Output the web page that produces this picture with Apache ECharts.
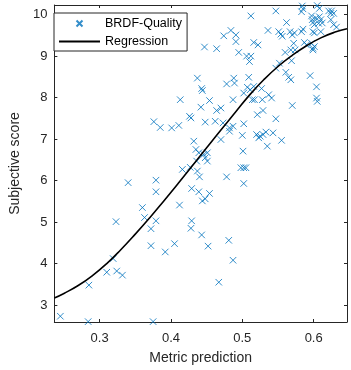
<!DOCTYPE html>
<html lang="en">
<head>
<meta charset="UTF-8">
<title>BRDF quality</title>
<script src="https://cdn.jsdelivr.net/npm/echarts@6/dist/echarts.min.js"></script>
<style>
    html, body { margin: 0; padding: 0; background: #ffffff; }
    #chart { width: 351px; height: 370px; }
</style>
</head>
<body>
<div id="chart"></div>
<script>
// scatter: metric prediction vs subjective score
var qualityX = [0.547,0.584,0.585,0.583,0.605,0.608,0.621,0.625,0.628,0.624,
    0.562,0.597,0.598,0.599,0.603,0.608,0.610,0.607,0.612,0.601,
    0.624,0.628,0.632,0.551,0.554,0.556,0.567,0.570,0.573,0.583,
    0.585,0.599,0.601,0.610,0.572,0.568,0.574,0.587,0.590,0.597,
    0.599,0.601,0.599,0.560,0.536,0.512,0.447,0.464,0.474,0.484,
    0.491,0.491,0.495,0.506,0.512,0.510,0.516,0.522,0.569,0.547,
    0.552,0.561,0.565,0.568,0.595,0.604,0.604,0.605,0.570,0.437,
    0.443,0.444,0.478,0.489,0.488,0.509,0.507,0.511,0.516,0.502,
    0.514,0.517,0.527,0.537,0.541,0.528,0.487,0.454,0.442,0.464,
    0.470,0.426,0.428,0.448,0.462,0.473,0.482,0.487,0.502,0.521,
    0.529,0.547,0.413,0.376,0.385,0.401,0.411,0.482,0.500,0.520,
    0.523,0.525,0.529,0.533,0.543,0.555,0.535,0.470,0.501,0.435,
    0.439,0.446,0.451,0.448,0.451,0.498,0.502,0.505,0.432,0.436,
    0.416,0.427,0.437,0.440,0.478,0.502,0.439,0.444,0.448,0.454,
    0.340,0.379,0.379,0.429,0.412,0.360,0.363,0.379,0.372,0.323,
    0.429,0.428,0.443,0.372,0.405,0.452,0.481,0.487,0.467,0.392,
    0.245,0.284,0.285,0.310,0.319,0.324,0.332,0.375];
var qualityY = [10.09,10.21,10.14,10.07,10.22,10.15,10.09,10.09,10.03,10.03,
    9.81,9.97,9.88,9.81,9.92,9.95,9.88,9.79,9.80,9.76,
    9.88,9.76,9.70,9.59,9.53,9.48,9.59,9.51,9.56,9.59,
    9.65,9.59,9.56,9.59,9.31,9.15,9.15,9.33,9.27,9.31,
    9.19,9.23,9.15,9.09,9.62,9.97,9.22,9.18,9.49,9.62,
    9.51,9.35,9.09,9.00,9.00,8.87,9.33,9.27,8.89,8.71,
    8.83,8.61,8.49,8.43,8.53,8.26,7.99,7.91,7.81,8.47,
    8.22,8.17,8.33,8.35,8.47,8.49,8.25,8.19,8.27,8.11,
    7.95,7.95,8.22,8.07,7.99,7.95,7.95,7.93,7.77,7.69,
    7.75,7.55,7.51,7.41,7.43,7.39,7.27,7.31,7.37,7.59,
    7.69,7.49,7.95,7.42,7.28,7.27,7.33,7.19,7.09,7.11,
    7.03,7.07,7.11,7.17,7.15,6.97,6.83,6.99,6.71,6.75,
    6.67,6.63,6.67,6.55,6.47,6.31,6.31,6.31,6.95,6.47,
    6.27,6.32,6.23,6.09,6.09,5.93,5.73,5.51,5.56,5.69,
    5.95,6.01,5.73,5.81,5.41,5.35,5.11,5.03,4.84,5.01,
    5.03,4.85,4.69,4.43,4.48,4.42,4.56,4.08,3.55,4.28,
    2.73,2.60,3.48,3.79,4.12,3.82,3.72,2.60];

// regression curve
var regX = [0.2366,0.25,0.27,0.29,0.31,0.33,0.35,0.37,0.39,0.41,0.43,
    0.45,0.47,0.49,0.51,0.53,0.55,0.57,0.59,0.61,0.63,0.6467];
var regY = [3.17,3.28,3.47,3.71,4.00,4.34,4.71,5.10,5.51,5.93,6.36,
    6.79,7.22,7.64,8.06,8.43,8.75,9.02,9.25,9.44,9.58,9.66];

var xTicks = [0.3, 0.4, 0.5, 0.6];
var yTicks = [3, 4, 5, 6, 7, 8, 9, 10];

var axisColor = '#262626';
var blue = '#0072BD';
var font = 'Liberation Sans, Arial, Helvetica, sans-serif';

function pairs(xs, ys) {
    var out = [];
    for (var i = 0; i < xs.length; i++) out.push([xs[i], ys[i]]);
    return out;
}

function makeAxis(pos, ticks, min, max, withLabels) {
    return {
        type: 'value',
        position: pos,
        min: min,
        max: max,
        axisLine: { show: true, onZero: false, lineStyle: { color: axisColor, width: 1 } },
        axisTick: { show: true, inside: true, length: 3, customValues: ticks,
            lineStyle: { color: axisColor, width: 1 } },
        axisLabel: { show: withLabels, customValues: ticks, color: axisColor,
            fontSize: 13, fontFamily: font, margin: pos === 'bottom' ? 10 : 7 },
        splitLine: { show: false }
    };
}

var xMin = 0.2366, xMax = 0.6467, yMin = 2.591, yMax = 10.233;

var xBottom = makeAxis('bottom', xTicks, xMin, xMax, true);
xBottom.name = 'Metric prediction';
xBottom.nameLocation = 'middle';
xBottom.nameGap = 29;
xBottom.nameTextStyle = { color: axisColor, fontSize: 14, fontFamily: font };

var yLeft = makeAxis('left', yTicks, yMin, yMax, true);
yLeft.name = 'Subjective score';
yLeft.nameLocation = 'middle';
yLeft.nameGap = 25;
yLeft.nameTextStyle = { color: axisColor, fontSize: 14, fontFamily: font };

var chart = echarts.init(document.getElementById('chart'), null, { renderer: 'canvas' });
var option = {
    backgroundColor: '#ffffff',
    animation: false,
    grid: { left: 43, right: 4, top: 5, bottom: 47, containLabel: false },
    legend: {
        left: 54,
        top: 13,
        orient: 'vertical',
        itemWidth: 41,
        itemHeight: 6,
        itemGap: 5,
        padding: [4, 5, 3, 4],
        backgroundColor: '#ffffff',
        borderColor: axisColor,
        borderWidth: 1,
        borderRadius: 0,
        textStyle: { color: '#000000', fontSize: 12.5, fontFamily: font },
        data: [
            { name: 'BRDF-Quality' },
            { name: 'Regression', itemStyle: { opacity: 0 } }
        ]
    },
    xAxis: [xBottom, makeAxis('top', xTicks, xMin, xMax, false)],
    yAxis: [yLeft, makeAxis('right', yTicks, yMin, yMax, false)],
    series: [
        {
            name: 'BRDF-Quality',
            type: 'scatter',
            xAxisIndex: 0,
            yAxisIndex: 0,
            symbol: 'path://M0,0L10,10M0,10L10,0',
            symbolSize: 6.5,
            itemStyle: { color: 'rgba(0,0,0,0)', borderColor: blue, borderWidth: 1 },
            data: pairs(qualityX, qualityY)
        },
        {
            name: 'Regression',
            type: 'line',
            xAxisIndex: 0,
            yAxisIndex: 0,
            smooth: true,
            symbol: 'none',
            lineStyle: { color: '#000000', width: 1.6 },
            itemStyle: { color: '#000000' },
            z: 3,
            data: pairs(regX, regY)
        }
    ]
};
chart.setOption(option);
</script>
</body>
</html>
